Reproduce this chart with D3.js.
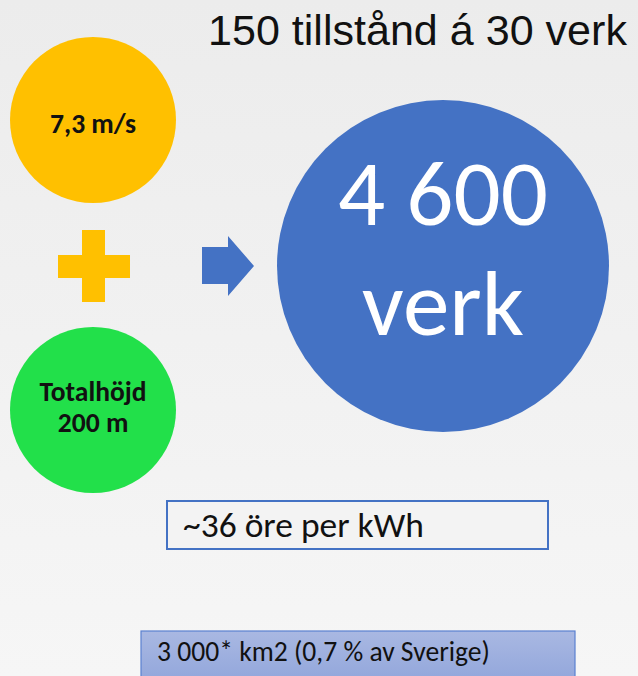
<!DOCTYPE html>
<html><head><meta charset="utf-8">
<script src="https://cdn.jsdelivr.net/npm/d3@7"></script>
<style>html,body{margin:0;padding:0;background:#f2f2f2;}svg{display:block;}</style>
</head><body>
<svg id="c" width="638" height="676"></svg>
<script>
// ---- data ----
const title = "150 tillstånd á 30 verk";
const inputLabels = [["7,3 m/s"], ["Totalhöjd", "200 m"]];
const resultLabel = ["4 600", "verk"];
const costLabel = "~36 öre per kWh";
const areaLabel = "3 000* km2 (0,7 % av Sverige)";

const W = 638, H = 676;
const svg = d3.select("#c");
const defs = svg.append("defs");
const bg = defs.append("linearGradient").attr("id","bg").attr("x1",0).attr("y1",0).attr("x2",0).attr("y2",1);
bg.append("stop").attr("offset","0%").attr("stop-color","#ececec");
bg.append("stop").attr("offset","100%").attr("stop-color","#f6f6f6");
const barG = defs.append("linearGradient").attr("id","bar").attr("x1",0).attr("y1",0).attr("x2",0).attr("y2",1);
barG.append("stop").attr("offset","0%").attr("stop-color","#a9b8e2");
barG.append("stop").attr("offset","100%").attr("stop-color","#8ea3da");

svg.append("rect").attr("width",W).attr("height",H).attr("fill","url(#bg)");

const calibri = "Carlito, Calibri, Lato, 'Open Sans', sans-serif";

// fit helper: scale font size so text reaches target width
function fit(sel, target){
  sel.each(function(){
    const fs = parseFloat(this.getAttribute("font-size"));
    const w = this.getComputedTextLength();
    if (w > 0) this.setAttribute("font-size", (fs*target/w).toFixed(2));
  });
}

// title
const t = svg.append("text").attr("x",208).attr("y",45).attr("font-family","'Liberation Sans', Arial, sans-serif")
  .attr("font-size",36).attr("fill","#111").text(title);
fit(t, 419);

// input circles
const inputs = [{cx:93, cy:120, fill:"#FFC000"}, {cx:93, cy:410, fill:"#22E04A"}];
const circ = svg.selectAll("g.inp").data(inputs).join("g").attr("class","inp");
circ.append("circle").attr("cx",d=>d.cx).attr("cy",d=>d.cy).attr("r",83).attr("fill",d=>d.fill);

const t1 = svg.append("text").attr("x",93).attr("y",133).attr("text-anchor","middle")
  .attr("font-family",calibri).attr("font-weight","bold").attr("font-size",19).attr("fill","#111").text(inputLabels[0][0]);
fit(t1, 86);
inputLabels[1].forEach((s,i)=>{
  const tt = svg.append("text").attr("x",93).attr("y",401+i*31).attr("text-anchor","middle")
    .attr("font-family",calibri).attr("font-weight","bold").attr("font-size",19).attr("fill","#111").text(s);
  if(i===0) fit(tt,107); else tt.attr("font-size", t1.attr("font-size"));
});

// plus sign
svg.append("rect").attr("x",82).attr("y",230).attr("width",23).attr("height",72).attr("fill","#FFC000");
svg.append("rect").attr("x",58).attr("y",255).attr("width",72).attr("height",23).attr("fill","#FFC000");

// arrow
const arrow = d3.path();
arrow.moveTo(202,247); arrow.lineTo(228,247); arrow.lineTo(228,236); arrow.lineTo(254,266);
arrow.lineTo(228,296); arrow.lineTo(228,284); arrow.lineTo(202,284); arrow.closePath();
svg.append("path").attr("d",arrow.toString()).attr("fill","#4472C4");

// result circle
svg.append("circle").attr("cx",443).attr("cy",266).attr("r",166).attr("fill","#4472C4");
const r0 = svg.append("text").attr("x",443).attr("y",225).attr("text-anchor","middle")
  .attr("font-family",calibri).attr("font-size",72).attr("fill","#fff").text(resultLabel[0]);
fit(r0, 210);
svg.append("text").attr("x",443).attr("y",335).attr("text-anchor","middle")
  .attr("font-family",calibri).attr("font-size",r0.attr("font-size")).attr("fill","#fff").text(resultLabel[1]);

// cost box
svg.append("rect").attr("x",167).attr("y",501).attr("width",381).attr("height",48)
  .attr("fill","#f3f3f3").attr("stroke","#4472C4").attr("stroke-width",2);
const ct = svg.append("text").attr("x",183).attr("y",537).attr("font-family",calibri)
  .attr("font-size",26).attr("fill","#111").text(costLabel);
fit(ct, 241);

// area bar
svg.append("rect").attr("x",141).attr("y",631).attr("width",434).attr("height",60)
  .attr("fill","url(#bar)").attr("stroke","#5b80d0").attr("stroke-width",1.2);
const at = svg.append("text").attr("x",157).attr("y",661).attr("font-family",calibri)
  .attr("font-size",21).attr("fill","#111").text(areaLabel);
fit(at, 333);
</script>
</body></html>
